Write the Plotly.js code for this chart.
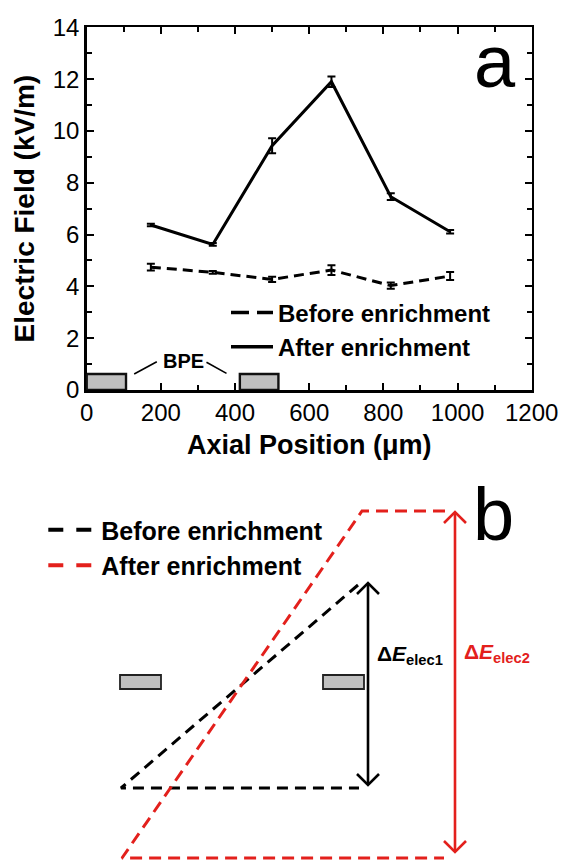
<!DOCTYPE html>
<html>
<head>
<meta charset="utf-8">
<script src="https://cdn.plot.ly/plotly-3.0.1.min.js"></script>
<style>
html, body { margin: 0; padding: 0; background: #ffffff; }
#chart { width: 565px; height: 863px; }
</style>
</head>
<body>
<div id="chart"></div>
<script>
// ---------- Panel a: measured electric field ----------
const axialPos = [173, 340, 500, 660, 820, 980];            // µm
const beforeField = [4.74, 4.54, 4.27, 4.63, 4.03, 4.40];   // kV/m
const beforeErr = [0.13, 0.05, 0.10, 0.19, 0.12, 0.15];
const afterField = [6.37, 5.62, 9.43, 11.90, 7.46, 6.11];   // kV/m
const afterErr = [0.05, 0.05, 0.29, 0.20, 0.13, 0.07];
const seriesNames = ['Before enrichment', 'After enrichment'];

// BPE electrodes drawn on the axis of panel a
const bpeStart = [0, 413];
const bpeEnd = [106, 517];
const bpeHeight = 0.62;
const bpeLabel = 'BPE';
const bpeLabelX = 262, bpeLabelY = 1.12;
const bpeLeaderX0 = [128, 323], bpeLeaderX1 = [189, 377];
const bpeLeaderY0 = [0.62, 1.07], bpeLeaderY1 = [1.09, 0.64];

// ---------- Panel b: schematic (schematic units) ----------
const schemBeforeX = [358, 121, 359];
const schemBeforeY = [585, 788, 788];
const schemAfterX = [445, 362, 122, 444];
const schemAfterY = [511, 511, 858, 858];
const schemBpeX0 = [120, 323], schemBpeX1 = [161, 364];
const schemBpeY0 = 675, schemBpeY1 = 689;
const arrow1X = 368, arrow1Y = [583, 785];
const arrow2X = 455, arrow2Y = [512, 852];
const label1 = '<b>Δ<i>E</i><sub>elec1</sub></b>';
const label2 = '<b>Δ<i>E</i><sub>elec2</sub></b>';
const label1X = 375, label1Y = 655;
const label2X = 462, label2Y = 653;

const FONT = 'Liberation Sans, Arial, sans-serif';
const RED = '#e3201c';
const W = 565, H = 863;
const HEAD = 11;   // arrow head size in schematic units

function doubleArrow(x, ys, color) {
  const base = { xaxis: 'x2', yaxis: 'y2', mode: 'lines', showlegend: false, hoverinfo: 'skip',
                 line: { color: color, width: 2.6 } };
  return [
    Object.assign({}, base, { x: [x, x], y: ys }),
    Object.assign({}, base, { x: [x - HEAD, x, x + HEAD], y: [ys[0] + HEAD, ys[0], ys[0] + HEAD] }),
    Object.assign({}, base, { x: [x - HEAD, x, x + HEAD], y: [ys[1] - HEAD, ys[1], ys[1] - HEAD] })
  ];
}

const traces = [
  { x: axialPos, y: beforeField, xaxis: 'x', yaxis: 'y', mode: 'lines',
    line: { color: '#000', width: 3, dash: '10px,6px' },
    error_y: { type: 'data', array: beforeErr, color: '#000', thickness: 2, width: 4 },
    showlegend: false, hoverinfo: 'skip' },
  { x: axialPos, y: afterField, xaxis: 'x', yaxis: 'y', mode: 'lines',
    line: { color: '#000', width: 3 },
    error_y: { type: 'data', array: afterErr, color: '#000', thickness: 2, width: 4 },
    showlegend: false, hoverinfo: 'skip' },
  { x: [null], y: [null], xaxis: 'x', yaxis: 'y', mode: 'lines', name: seriesNames[0],
    line: { color: '#000', width: 3.5, dash: '18px,8px' }, legend: 'legend' },
  { x: [null], y: [null], xaxis: 'x', yaxis: 'y', mode: 'lines', name: seriesNames[1],
    line: { color: '#000', width: 3.5 }, legend: 'legend' },

  { x: schemBeforeX, y: schemBeforeY, xaxis: 'x2', yaxis: 'y2', mode: 'lines',
    line: { color: '#000', width: 3, dash: '11px,7px' }, showlegend: false, hoverinfo: 'skip' },
  { x: schemAfterX, y: schemAfterY, xaxis: 'x2', yaxis: 'y2', mode: 'lines',
    line: { color: RED, width: 3, dash: '12px,7px' }, showlegend: false, hoverinfo: 'skip' },
  { x: [null], y: [null], xaxis: 'x2', yaxis: 'y2', mode: 'lines', name: seriesNames[0],
    line: { color: '#000', width: 4, dash: '15px,13px' }, legend: 'legend2' },
  { x: [null], y: [null], xaxis: 'x2', yaxis: 'y2', mode: 'lines', name: seriesNames[1],
    line: { color: RED, width: 4, dash: '15px,13px' }, legend: 'legend2' }
].concat(doubleArrow(arrow1X, arrow1Y, '#000'), doubleArrow(arrow2X, arrow2Y, RED));

const shapes = [];
for (let i = 0; i < bpeStart.length; i++) {
  shapes.push({ type: 'rect', xref: 'x', yref: 'y', x0: bpeStart[i], x1: bpeEnd[i], y0: 0, y1: bpeHeight,
    fillcolor: '#c0c0c0', line: { color: '#111', width: 2.4 }, layer: 'above' });
  shapes.push({ type: 'line', xref: 'x', yref: 'y', x0: bpeLeaderX0[i], x1: bpeLeaderX1[i],
    y0: bpeLeaderY0[i], y1: bpeLeaderY1[i], line: { color: '#000', width: 1.6 } });
}
for (let i = 0; i < schemBpeX0.length; i++) {
  shapes.push({ type: 'rect', xref: 'x2', yref: 'y2', x0: schemBpeX0[i], x1: schemBpeX1[i],
    y0: schemBpeY0, y1: schemBpeY1, fillcolor: '#c0c0c0', line: { color: '#222', width: 1.8 } });
}

const annotations = [
  { text: bpeLabel, xref: 'x', yref: 'y', x: bpeLabelX, y: bpeLabelY, showarrow: false,
    font: { family: FONT, size: 20, weight: 'bold', color: '#000' } },
  { text: 'a', xref: 'paper', yref: 'paper', x: 495 / W, y: 1 - 62 / H, xanchor: 'center', yanchor: 'middle',
    showarrow: false, font: { family: FONT, size: 74, color: '#000' } },
  { text: 'b', xref: 'paper', yref: 'paper', x: 493 / W, y: 1 - 514 / H, xanchor: 'center', yanchor: 'middle',
    showarrow: false, font: { family: FONT, size: 74, color: '#000' } },
  { text: label1, xref: 'x2', yref: 'y2', x: label1X, y: label1Y, xanchor: 'left', yanchor: 'middle',
    showarrow: false, font: { family: FONT, size: 21, color: '#000' } },
  { text: label2, xref: 'x2', yref: 'y2', x: label2X, y: label2Y, xanchor: 'left', yanchor: 'middle',
    showarrow: false, font: { family: FONT, size: 21, color: RED } }
];

const axisCommon = {
  ticks: 'inside', ticklen: 7, tickwidth: 2, tickcolor: '#000',
  showline: true, linewidth: 2.5, linecolor: '#000', mirror: 'allticks',
  showgrid: false, zeroline: false, automargin: false,
  tickfont: { family: FONT, size: 24, color: '#000' }
};

const layout = {
  width: W, height: H,
  margin: { l: 0, r: 0, t: 0, b: 0 },
  paper_bgcolor: '#ffffff', plot_bgcolor: 'rgba(0,0,0,0)',
  font: { family: FONT, color: '#000' },
  xaxis: Object.assign({}, axisCommon, {
    domain: [86.7 / W, 531.7 / W], range: [0, 1200], tick0: 0, dtick: 200, anchor: 'y',
    minor: { dtick: 100, ticks: 'inside', ticklen: 5, tickwidth: 2, tickcolor: '#000', showgrid: false },
    title: { text: 'Axial Position (μm)', font: { family: FONT, size: 27, weight: 'bold', color: '#000' }, standoff: 10 }
  }),
  yaxis: Object.assign({}, axisCommon, {
    domain: [1 - 390 / H, 1 - 27.3 / H], range: [0, 14], tick0: 0, dtick: 2, anchor: 'x',
    minor: { dtick: 1, ticks: 'inside', ticklen: 5, tickwidth: 2, tickcolor: '#000', showgrid: false },
    title: { text: 'Electric Field (kV/m)', font: { family: FONT, size: 28, weight: 'bold', color: '#000' }, standoff: 10 }
  }),
  xaxis2: { domain: [0, 1], range: [0, W], visible: false, anchor: 'y2', fixedrange: true },
  yaxis2: { domain: [0, 393 / H], range: [H, 470], visible: false, anchor: 'x2', fixedrange: true },
  legend: { x: (231 - 5) / W, xanchor: 'left', y: 1 - 330 / H, yanchor: 'middle',
    bgcolor: 'rgba(0,0,0,0)', borderwidth: 0, itemwidth: 42, tracegroupgap: 0,
    font: { family: FONT, size: 24, weight: 'bold', color: '#000' } },
  legend2: { x: (48.3 - 5) / W, xanchor: 'left', y: 1 - 547.5 / H, yanchor: 'middle',
    bgcolor: 'rgba(0,0,0,0)', borderwidth: 0, itemwidth: 48, tracegroupgap: 0,
    font: { family: FONT, size: 25, weight: 'bold', color: '#000' } },
  shapes: shapes,
  annotations: annotations
};

Plotly.newPlot('chart', traces, layout, { displayModeBar: false, staticPlot: true });
</script>
</body>
</html>
